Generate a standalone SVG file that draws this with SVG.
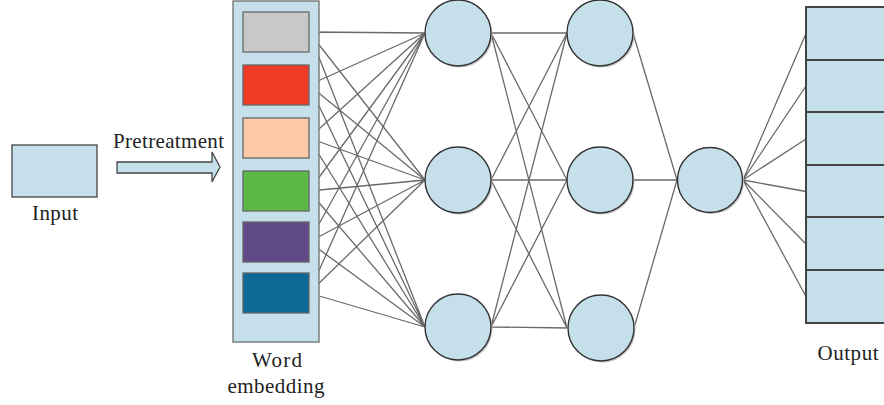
<svg xmlns="http://www.w3.org/2000/svg" width="884" height="405" viewBox="0 0 884 405">
<style>
.t{font-family:"Liberation Serif","DejaVu Serif",serif;font-size:21px;fill:#222}
.c{fill:#c6e0eb;stroke:#333;stroke-width:1.4}
.sh{fill:#c4c4c4}
.l{stroke:#6a6a6a;stroke-width:1.3;fill:none}
.box{stroke:#666;stroke-width:1.3}
.ob{fill:#c6e0eb;stroke:#444;stroke-width:2}
</style>
<rect width="884" height="405" fill="#fff"/>
<g id="input">
<rect x="12" y="145" width="85" height="52" fill="#c6e0eb" stroke="#444" stroke-width="1.3"/>
<text class="t" x="55" y="220" text-anchor="middle" textLength="46">Input</text>
</g>
<g id="pretreatment">
<polygon points="117,162 212,162 212,152 220,167 212,182 212,173 117,173" fill="#c6e0eb" stroke="#444" stroke-width="1.3"/>
<text class="t" x="113" y="148" textLength="111">Pretreatment</text>
</g>
<g id="connectors">
<path class="l" d="M309,32L425,33M309,32L425,180M309,32L425,327M309,85L425,33M309,85L425,180M309,85L425,327M309,138L425,33M309,138L425,180M309,138L425,327M309,191L425,33M309,191L425,180M309,191L425,327M309,242L425,33M309,242L425,180M309,242L425,327M309,293L425,33M309,293L425,180M309,293L425,327"/>
<path class="l" d="M491,33L567,33M491,33L567,180M491,33L567,328M491,180L567,33M491,180L567,180M491,180L567,328M491,327L567,33M491,327L567,180M491,327L567,328"/>
<path class="l" d="M633,33L677,180M633,180L677,180M634,328L677,180"/>
<path class="l" d="M743,180L806,33.5M743,180L806,86M743,180L806,139M743,180L806,191.5M743,180L806,244M743,180L806,296.5"/>
</g>
<g id="word-embedding">
<rect x="233" y="1" width="86" height="341" fill="#c6e0eb" stroke="#777" stroke-width="1.4"/>
<rect class="box" x="243" y="12" width="66" height="40" fill="#c8c8c8"/>
<rect class="box" x="243" y="65" width="66" height="40" fill="#ee3b25"/>
<rect class="box" x="243" y="118" width="66" height="40" fill="#fcc9a6"/>
<rect class="box" x="243" y="171" width="66" height="40" fill="#5cb947"/>
<rect class="box" x="243" y="222" width="66" height="40" fill="#5f4a87"/>
<rect class="box" x="243" y="273" width="66" height="40" fill="#0e6896"/>
<text class="t" x="277" y="367" text-anchor="middle" textLength="50">Word</text>
<text class="t" x="276" y="393" text-anchor="middle" textLength="97">embedding</text>
</g>
<g id="h1a"><circle class="sh" cx="459.5" cy="34.5" r="33"/><circle class="c" cx="458" cy="33" r="33"/></g>
<g id="h1b"><circle class="sh" cx="459.5" cy="181.5" r="33"/><circle class="c" cx="458" cy="180" r="33"/></g>
<g id="h1c"><circle class="sh" cx="459.5" cy="328.5" r="33"/><circle class="c" cx="458" cy="327" r="33"/></g>
<g id="h2a"><circle class="sh" cx="601.5" cy="34.5" r="33"/><circle class="c" cx="600" cy="33" r="33"/></g>
<g id="h2b"><circle class="sh" cx="601.5" cy="181.5" r="33"/><circle class="c" cx="600" cy="180" r="33"/></g>
<g id="h2c"><circle class="sh" cx="602.5" cy="329.5" r="33"/><circle class="c" cx="601" cy="328" r="33"/></g>
<g id="h3"><circle class="sh" cx="711.5" cy="181.5" r="32.5"/><circle class="c" cx="710" cy="180" r="32.5"/></g>
<g id="output">
<rect class="ob" x="806" y="7" width="90" height="53"/>
<rect class="ob" x="806" y="60" width="90" height="52"/>
<rect class="ob" x="806" y="112" width="90" height="53"/>
<rect class="ob" x="806" y="165" width="90" height="52"/>
<rect class="ob" x="806" y="217" width="90" height="53"/>
<rect class="ob" x="806" y="270" width="90" height="53"/>
<text class="t" x="848" y="360" text-anchor="middle" textLength="61">Output</text>
</g>
</svg>
